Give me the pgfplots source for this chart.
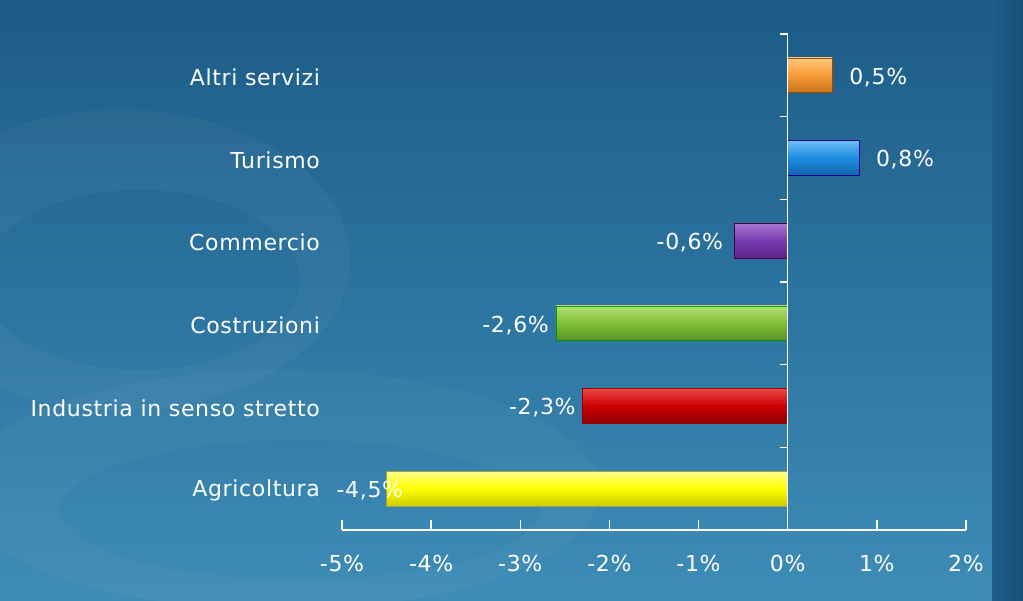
\documentclass[border=0pt]{standalone}
\usepackage{pgfplots}
\pgfplotsset{compat=1.18}
\usepackage{fontspec}
\setmainfont{DejaVu Sans}[LetterSpace=3]
\definecolor{bgtop}{HTML}{1C5C86}
\definecolor{bgmid}{HTML}{2C74A0}
\definecolor{bgbot}{HTML}{3E8DB6}
\definecolor{stripL}{HTML}{1E5F8C}
\definecolor{stripR}{HTML}{174E78}
\begin{document}
\begin{tikzpicture}[x=1pt,y=1pt]
\shade[top color=bgtop, bottom color=bgbot, middle color=bgmid] (0,0) rectangle (511.5,300);
\begin{scope}
\clip (0,0) rectangle (511.5,300);
\fill[white, opacity=0.035, even odd rule] (60,170) ellipse (115 and 75) (70,160) ellipse (80 and 45);
\fill[white, opacity=0.03, even odd rule] (140,55) ellipse (160 and 60) (150,45) ellipse (120 and 35);
\end{scope}
\shade[left color=stripL, right color=stripR] (496,0) rectangle (511.5,300);
\begin{axis}[
  at={(171pt,35pt)}, anchor=south west,
  scale only axis, width=312pt, height=248pt,
  xmin=-5, xmax=2, ymin=-0.5, ymax=5.5,
  axis x line*=bottom, axis y line*=left,
  y axis line style={draw=none},
  x axis line style={white, line width=0.75pt},
  xtick={-5,-4,-3,-2,-1,0,1,2},
  xticklabels={-5\%,-4\%,-3\%,-2\%,-1\%,0\%,1\%,2\%},
  xtick align=inside, major tick length=5pt,
  xtick style={white, line width=0.75pt},
  ytick={0,1,2,3,4,5},
  yticklabels={Agricoltura,Industria in senso stretto,Costruzioni,Commercio,Turismo,Altri servizi},
  ytick style={draw=none},
  yticklabel style={xshift=-2.5pt, yshift=-1pt},
  ticklabel style={font=\fontsize{11}{13}\selectfont, text=white},
  xticklabel style={yshift=-9pt},
  xbar, bar width=0.42, bar shift=0pt,
  point meta=explicit symbolic,
  nodes near coords,
  every node near coord/.append style={text=white, font=\fontsize{11}{13}\selectfont, yshift=-1pt},
  clip=false,
]
\addplot[draw=black!40!yellow, shade, top color=yellow!45!white, bottom color=yellow!80!black, middle color=yellow,
  every node near coord/.append style={anchor=east, xshift=11.8pt}]
  coordinates {(-4.5,0) [-4,5\%]};
\addplot[draw=red!60!black, shade, top color={rgb,255:red,235;green,70;blue,70}, bottom color={rgb,255:red,140;green,0;blue,0}, middle color={rgb,255:red,205;green,0;blue,0},
  every node near coord/.append style={anchor=east}]
  coordinates {(-2.3,1) [-2,3\%]};
\addplot[draw=black!40!green, shade, top color={rgb,255:red,180;green,222;blue,120}, bottom color={rgb,255:red,92;green,142;blue,34}, middle color={rgb,255:red,126;green,192;blue,50},
  every node near coord/.append style={anchor=east}]
  coordinates {(-2.6,2) [-2,6\%]};
\addplot[draw=black!40!violet, shade, top color={rgb,255:red,165;green,120;blue,210}, bottom color={rgb,255:red,88;green,38;blue,132}, middle color={rgb,255:red,120;green,58;blue,176},
  every node near coord/.append style={anchor=east, xshift=-2pt}]
  coordinates {(-0.6,3) [-0,6\%]};
\addplot[draw=black!40!blue, shade, top color={rgb,255:red,110;green,190;blue,245}, bottom color={rgb,255:red,20;green,100;blue,170}, middle color={rgb,255:red,28;green,140;blue,224},
  every node near coord/.append style={anchor=west, xshift=5pt}]
  coordinates {(0.8,4) [0,8\%]};
\addplot[draw=black!40!orange, shade, top color={rgb,255:red,252;green,200;blue,125}, bottom color={rgb,255:red,200;green,115;blue,30}, middle color={rgb,255:red,247;green,155;blue,52},
  every node near coord/.append style={anchor=west, xshift=5pt}]
  coordinates {(0.5,5) [0,5\%]};
\draw[white, line width=0.75pt] (axis cs:0,-0.5) -- (axis cs:0,5.5);
\pgfplotsinvokeforeach{0.5,1.5,2.5,3.5,4.5,5.5}{
  \draw[white, line width=0.75pt] (axis cs:0,#1) -- ++(-4pt,0pt);
}
\end{axis}
\pgfresetboundingbox
\path[use as bounding box] (0,0) rectangle (511.5,300);
\end{tikzpicture}
\end{document}
